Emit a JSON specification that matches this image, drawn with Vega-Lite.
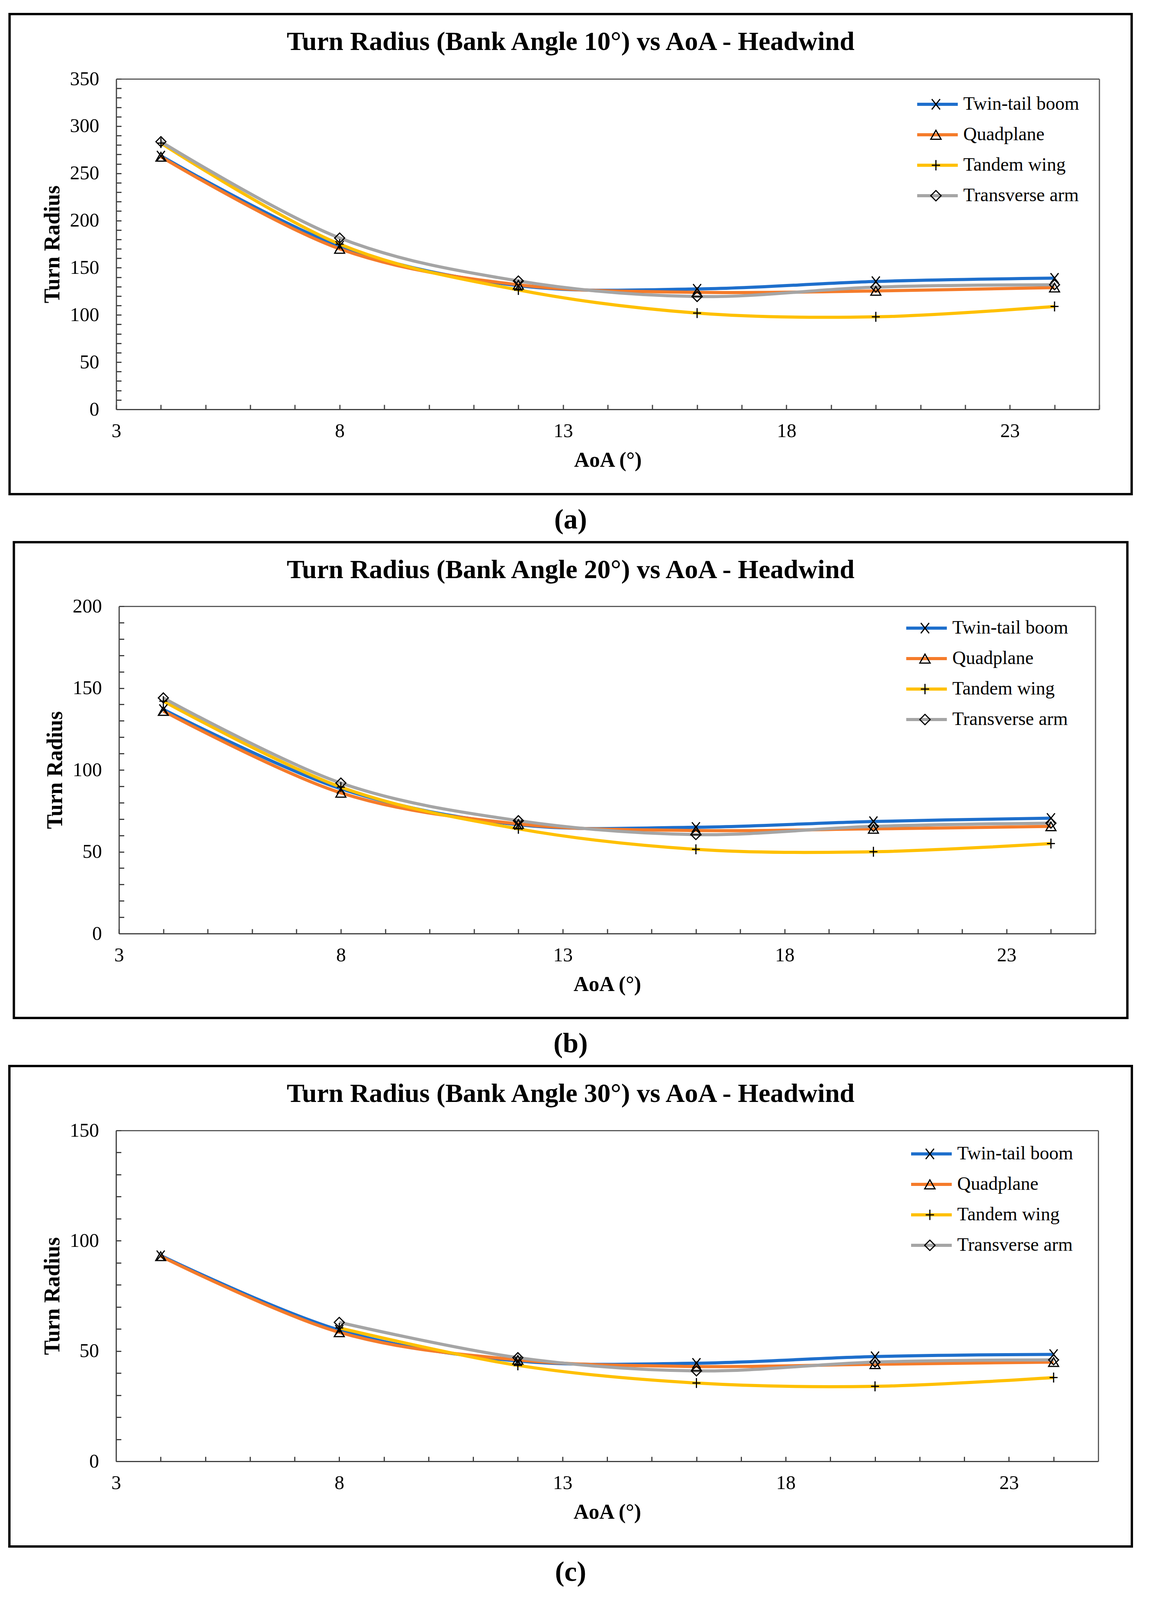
{
  "$schema": "https://vega.github.io/schema/vega-lite/v6.json",
  "background": "white",
  "padding": {"left": 21, "top": 33, "right": 0, "bottom": 15},
  "datasets": {
    "a": [
      {"series": "Twin-tail boom", "aoa": 4, "radius": 268.5}, {"series": "Twin-tail boom", "aoa": 8, "radius": 173}, {"series": "Twin-tail boom", "aoa": 12, "radius": 131}, {"series": "Twin-tail boom", "aoa": 16, "radius": 127.5}, {"series": "Twin-tail boom", "aoa": 20, "radius": 135.5}, {"series": "Twin-tail boom", "aoa": 24, "radius": 139},
      {"series": "Quadplane", "aoa": 4, "radius": 267.5}, {"series": "Quadplane", "aoa": 8, "radius": 170}, {"series": "Quadplane", "aoa": 12, "radius": 132}, {"series": "Quadplane", "aoa": 16, "radius": 124}, {"series": "Quadplane", "aoa": 20, "radius": 125.5}, {"series": "Quadplane", "aoa": 24, "radius": 129},
      {"series": "Tandem wing", "aoa": 4, "radius": 282}, {"series": "Tandem wing", "aoa": 8, "radius": 175}, {"series": "Tandem wing", "aoa": 12, "radius": 126.5}, {"series": "Tandem wing", "aoa": 16, "radius": 102}, {"series": "Tandem wing", "aoa": 20, "radius": 98}, {"series": "Tandem wing", "aoa": 24, "radius": 109},
      {"series": "Transverse arm", "aoa": 4, "radius": 283.5}, {"series": "Transverse arm", "aoa": 8, "radius": 181.5}, {"series": "Transverse arm", "aoa": 12, "radius": 136}, {"series": "Transverse arm", "aoa": 16, "radius": 119.5}, {"series": "Transverse arm", "aoa": 20, "radius": 129.5}, {"series": "Transverse arm", "aoa": 24, "radius": 132}
    ],
    "b": [
      {"series": "Twin-tail boom", "aoa": 4, "radius": 137}, {"series": "Twin-tail boom", "aoa": 8, "radius": 88.5}, {"series": "Twin-tail boom", "aoa": 12, "radius": 66.5}, {"series": "Twin-tail boom", "aoa": 16, "radius": 65}, {"series": "Twin-tail boom", "aoa": 20, "radius": 68.5}, {"series": "Twin-tail boom", "aoa": 24, "radius": 70.5},
      {"series": "Quadplane", "aoa": 4, "radius": 136}, {"series": "Quadplane", "aoa": 8, "radius": 86}, {"series": "Quadplane", "aoa": 12, "radius": 67}, {"series": "Quadplane", "aoa": 16, "radius": 63}, {"series": "Quadplane", "aoa": 20, "radius": 64}, {"series": "Quadplane", "aoa": 24, "radius": 65.5},
      {"series": "Tandem wing", "aoa": 4, "radius": 142}, {"series": "Tandem wing", "aoa": 8, "radius": 89.5}, {"series": "Tandem wing", "aoa": 12, "radius": 64}, {"series": "Tandem wing", "aoa": 16, "radius": 51.5}, {"series": "Tandem wing", "aoa": 20, "radius": 50}, {"series": "Tandem wing", "aoa": 24, "radius": 55},
      {"series": "Transverse arm", "aoa": 4, "radius": 144}, {"series": "Transverse arm", "aoa": 8, "radius": 92}, {"series": "Transverse arm", "aoa": 12, "radius": 69}, {"series": "Transverse arm", "aoa": 16, "radius": 60.5}, {"series": "Transverse arm", "aoa": 20, "radius": 65.5}, {"series": "Transverse arm", "aoa": 24, "radius": 67.5}
    ],
    "c": [
      {"series": "Twin-tail boom", "aoa": 4, "radius": 93.3}, {"series": "Twin-tail boom", "aoa": 8, "radius": 59.5}, {"series": "Twin-tail boom", "aoa": 12, "radius": 45.5}, {"series": "Twin-tail boom", "aoa": 16, "radius": 44.5}, {"series": "Twin-tail boom", "aoa": 20, "radius": 47.5}, {"series": "Twin-tail boom", "aoa": 24, "radius": 48.5},
      {"series": "Quadplane", "aoa": 4, "radius": 93}, {"series": "Quadplane", "aoa": 8, "radius": 58.5}, {"series": "Quadplane", "aoa": 12, "radius": 46}, {"series": "Quadplane", "aoa": 16, "radius": 43}, {"series": "Quadplane", "aoa": 20, "radius": 44}, {"series": "Quadplane", "aoa": 24, "radius": 45},
      {"series": "Tandem wing", "aoa": 8, "radius": 60.5}, {"series": "Tandem wing", "aoa": 12, "radius": 43.5}, {"series": "Tandem wing", "aoa": 16, "radius": 35.5}, {"series": "Tandem wing", "aoa": 20, "radius": 34}, {"series": "Tandem wing", "aoa": 24, "radius": 38},
      {"series": "Transverse arm", "aoa": 8, "radius": 63}, {"series": "Transverse arm", "aoa": 12, "radius": 47}, {"series": "Transverse arm", "aoa": 16, "radius": 41}, {"series": "Transverse arm", "aoa": 20, "radius": 45}, {"series": "Transverse arm", "aoa": 24, "radius": 46}
    ]
  },
  "vconcat": [
    {
      "title": {"text": "(a)", "orient": "bottom", "offset": 28, "fontSize": 72, "fontWeight": "bold", "font": "Liberation Serif", "color": "black", "anchor": "middle"},
      "resolve": {"scale": {"color": "independent", "shape": "independent"}, "legend": {"color": "independent", "shape": "independent"}},
      "vconcat": [
        {
          "title": {"text": "Turn Radius (Bank Angle 10°) vs AoA - Headwind", "offset": -106, "fontSize": 68, "fontWeight": "bold", "font": "Liberation Serif", "color": "black", "anchor": "middle"},
          "width": 2872, "height": 1229,
          "data": {"name": "a"},
          "layer": [
            {
              "mark": {"type": "line", "interpolate": "cardinal", "strokeWidth": 8},
              "encoding": {
                "x": {"field": "aoa", "type": "quantitative", "scale": {"domain": [3, 25], "range": [273, 2789], "nice": false, "zero": false},
                  "axis": {"orient": "bottom", "offset": -217, "values": [3,4,5,6,7,8,9,10,11,12,13,14,15,16,17,18,19,20,21,22,23,24,25], "labelExpr": "(datum.value - 3) % 5 === 0 ? datum.label : ''", "tickSize": -12, "labelPadding": 42, "labelOverlap": false, "labelFlush": false, "title": "AoA (°)", "titlePadding": 23}},
                "y": {"field": "radius", "type": "quantitative", "scale": {"domain": [0, 350], "range": [1012, 166], "nice": false, "zero": false},
                  "axis": {"orient": "left", "offset": -273, "values": [0,10,20,30,40,50,60,70,80,90,100,110,120,130,140,150,160,170,180,190,200,210,220,230,240,250,260,270,280,290,300,310,320,330,340,350], "labelExpr": "datum.value % 50 === 0 ? datum.label : ''", "tickSize": -13, "labelPadding": 57, "labelOverlap": false, "labelFlush": false, "title": "Turn Radius", "titlePadding": 15, "titleFontSize": 56}},
                "color": {"field": "series", "type": "nominal", "scale": {"domain": ["Twin-tail boom", "Quadplane", "Tandem wing", "Transverse arm"], "range": ["#1E6FCC", "#F57B2A", "#FFC000", "#A5A5A5"]},
                  "legend": {"orient": "none", "legendX": 2319, "legendY": 206, "title": null, "symbolType": "stroke", "symbolSize": 10816, "symbolStrokeWidth": 8, "labelOffset": 10}}
              }
            },
            {
              "mark": {"type": "point", "filled": false, "stroke": "black", "strokeWidth": 3, "size": 650, "opacity": 1},
              "encoding": {
                "x": {"field": "aoa", "type": "quantitative", "axis": {"orient": "top", "offset": -166, "labels": false, "ticks": false, "title": null, "domainColor": "#595959"}},
                "y": {"field": "radius", "type": "quantitative", "axis": {"orient": "right", "offset": -83, "labels": false, "ticks": false, "title": null, "domainColor": "#595959"}},
                "shape": {"field": "series", "type": "nominal", "sort": ["Twin-tail boom", "Quadplane", "Tandem wing", "Transverse arm"], "scale": {"range": ["M-0.8,-1L0.8,1M-0.8,1L0.8,-1", "triangle-up", "M0,-1L0,1M-0.8,0L0.8,0", "diamond"]},
                  "legend": {"orient": "none", "legendX": 2347, "legendY": 206, "title": null, "symbolSize": 700, "symbolStrokeWidth": 3, "symbolStrokeColor": "black", "symbolFillColor": "transparent", "labelExpr": "''", "labelOffset": 10}}
              }
            }
          ],
          "resolve": {"axis": {"x": "independent", "y": "independent"}}
        }
      ]
    },
    {
      "title": {"text": "(b)", "orient": "bottom", "offset": 28, "fontSize": 72, "fontWeight": "bold", "font": "Liberation Serif", "color": "black", "anchor": "middle"},
      "resolve": {"scale": {"color": "independent", "shape": "independent"}, "legend": {"color": "independent", "shape": "independent"}},
      "vconcat": [
        {
          "title": {"text": "Turn Radius (Bank Angle 20°) vs AoA - Headwind", "offset": -106, "fontSize": 68, "fontWeight": "bold", "font": "Liberation Serif", "color": "black", "anchor": "middle"},
          "width": 2850, "height": 1218,
          "data": {"name": "b"},
          "layer": [
            {
              "mark": {"type": "line", "interpolate": "cardinal", "strokeWidth": 8},
              "encoding": {
                "x": {"field": "aoa", "type": "quantitative", "scale": {"domain": [3, 25], "range": [269, 2768], "nice": false, "zero": false},
                  "axis": {"orient": "bottom", "offset": -216, "values": [3,4,5,6,7,8,9,10,11,12,13,14,15,16,17,18,19,20,21,22,23,24,25], "labelExpr": "(datum.value - 3) % 5 === 0 ? datum.label : ''", "tickSize": -12, "labelPadding": 42, "labelOverlap": false, "labelFlush": false, "title": "AoA (°)", "titlePadding": 23}},
                "y": {"field": "radius", "type": "quantitative", "scale": {"domain": [0, 200], "range": [1002, 164], "nice": false, "zero": false},
                  "axis": {"orient": "left", "offset": -269, "values": [0,10,20,30,40,50,60,70,80,90,100,110,120,130,140,150,160,170,180,190,200], "labelExpr": "datum.value % 50 === 0 ? datum.label : ''", "tickSize": -13, "labelPadding": 57, "labelOverlap": false, "labelFlush": false, "title": "Turn Radius", "titlePadding": 15, "titleFontSize": 56}},
                "color": {"field": "series", "type": "nominal", "scale": {"domain": ["Twin-tail boom", "Quadplane", "Tandem wing", "Transverse arm"], "range": ["#1E6FCC", "#F57B2A", "#FFC000", "#A5A5A5"]},
                  "legend": {"orient": "none", "legendX": 2280, "legendY": 195, "title": null, "symbolType": "stroke", "symbolSize": 10816, "symbolStrokeWidth": 8, "labelOffset": 10}}
              }
            },
            {
              "mark": {"type": "point", "filled": false, "stroke": "black", "strokeWidth": 3, "size": 650, "opacity": 1},
              "encoding": {
                "x": {"field": "aoa", "type": "quantitative", "axis": {"orient": "top", "offset": -164, "labels": false, "ticks": false, "title": null, "domainColor": "#595959"}},
                "y": {"field": "radius", "type": "quantitative", "axis": {"orient": "right", "offset": -82, "labels": false, "ticks": false, "title": null, "domainColor": "#595959"}},
                "shape": {"field": "series", "type": "nominal", "sort": ["Twin-tail boom", "Quadplane", "Tandem wing", "Transverse arm"], "scale": {"range": ["M-0.8,-1L0.8,1M-0.8,1L0.8,-1", "triangle-up", "M0,-1L0,1M-0.8,0L0.8,0", "diamond"]},
                  "legend": {"orient": "none", "legendX": 2308, "legendY": 195, "title": null, "symbolSize": 700, "symbolStrokeWidth": 3, "symbolStrokeColor": "black", "symbolFillColor": "transparent", "labelExpr": "''", "labelOffset": 10}}
              }
            }
          ],
          "resolve": {"axis": {"x": "independent", "y": "independent"}}
        }
      ]
    },
    {
      "title": {"text": "(c)", "orient": "bottom", "offset": 28, "fontSize": 72, "fontWeight": "bold", "font": "Liberation Serif", "color": "black", "anchor": "middle"},
      "resolve": {"scale": {"color": "independent", "shape": "independent"}, "legend": {"color": "independent", "shape": "independent"}},
      "vconcat": [
        {
          "title": {"text": "Turn Radius (Bank Angle 30°) vs AoA - Headwind", "offset": -106, "fontSize": 68, "fontWeight": "bold", "font": "Liberation Serif", "color": "black", "anchor": "middle"},
          "width": 2873, "height": 1230,
          "data": {"name": "c"},
          "layer": [
            {
              "mark": {"type": "line", "interpolate": "cardinal", "strokeWidth": 8},
              "encoding": {
                "x": {"field": "aoa", "type": "quantitative", "scale": {"domain": [3, 25], "range": [273, 2787], "nice": false, "zero": false},
                  "axis": {"orient": "bottom", "offset": -218, "values": [3,4,5,6,7,8,9,10,11,12,13,14,15,16,17,18,19,20,21,22,23,24,25], "labelExpr": "(datum.value - 3) % 5 === 0 ? datum.label : ''", "tickSize": -12, "labelPadding": 42, "labelOverlap": false, "labelFlush": false, "title": "AoA (°)", "titlePadding": 23}},
                "y": {"field": "radius", "type": "quantitative", "scale": {"domain": [0, 150], "range": [1012, 165], "nice": false, "zero": false},
                  "axis": {"orient": "left", "offset": -273, "values": [0,10,20,30,40,50,60,70,80,90,100,110,120,130,140,150], "labelExpr": "datum.value % 50 === 0 ? datum.label : ''", "tickSize": -13, "labelPadding": 57, "labelOverlap": false, "labelFlush": false, "title": "Turn Radius", "titlePadding": 15, "titleFontSize": 56}},
                "color": {"field": "series", "type": "nominal", "scale": {"domain": ["Twin-tail boom", "Quadplane", "Tandem wing", "Transverse arm"], "range": ["#1E6FCC", "#F57B2A", "#FFC000", "#A5A5A5"]},
                  "legend": {"orient": "none", "legendX": 2304, "legendY": 200, "title": null, "symbolType": "stroke", "symbolSize": 10816, "symbolStrokeWidth": 8, "labelOffset": 10}}
              }
            },
            {
              "mark": {"type": "point", "filled": false, "stroke": "black", "strokeWidth": 3, "size": 650, "opacity": 1},
              "encoding": {
                "x": {"field": "aoa", "type": "quantitative", "axis": {"orient": "top", "offset": -165, "labels": false, "ticks": false, "title": null, "domainColor": "#595959"}},
                "y": {"field": "radius", "type": "quantitative", "axis": {"orient": "right", "offset": -86, "labels": false, "ticks": false, "title": null, "domainColor": "#595959"}},
                "shape": {"field": "series", "type": "nominal", "sort": ["Twin-tail boom", "Quadplane", "Tandem wing", "Transverse arm"], "scale": {"range": ["M-0.8,-1L0.8,1M-0.8,1L0.8,-1", "triangle-up", "M0,-1L0,1M-0.8,0L0.8,0", "diamond"]},
                  "legend": {"orient": "none", "legendX": 2332, "legendY": 200, "title": null, "symbolSize": 700, "symbolStrokeWidth": 3, "symbolStrokeColor": "black", "symbolFillColor": "transparent", "labelExpr": "''", "labelOffset": 10}}
              }
            }
          ],
          "resolve": {"axis": {"x": "independent", "y": "independent"}}
        }
      ]
    }
  ],
  "spacing": 18,
  "center": true,
  "resolve": {"scale": {"x": "independent", "y": "independent", "color": "independent", "shape": "independent"}, "legend": {"color": "independent", "shape": "independent"}},
  "config": {
    "view": {"stroke": "black", "strokeWidth": 6},
    "font": "Liberation Serif",
    "axis": {"grid": false, "domainColor": "#404040", "domainWidth": 3, "tickColor": "#404040", "tickWidth": 3, "labelFont": "Liberation Serif", "labelFontSize": 50, "labelColor": "black", "titleFont": "Liberation Serif", "titleFontSize": 54, "titleFontWeight": "bold", "titleColor": "black"},
    "legend": {"labelFont": "Liberation Serif", "labelFontSize": 48, "labelColor": "black", "labelLimit": 2000, "padding": 0, "rowPadding": 28, "clipHeight": 50}
  }
}
